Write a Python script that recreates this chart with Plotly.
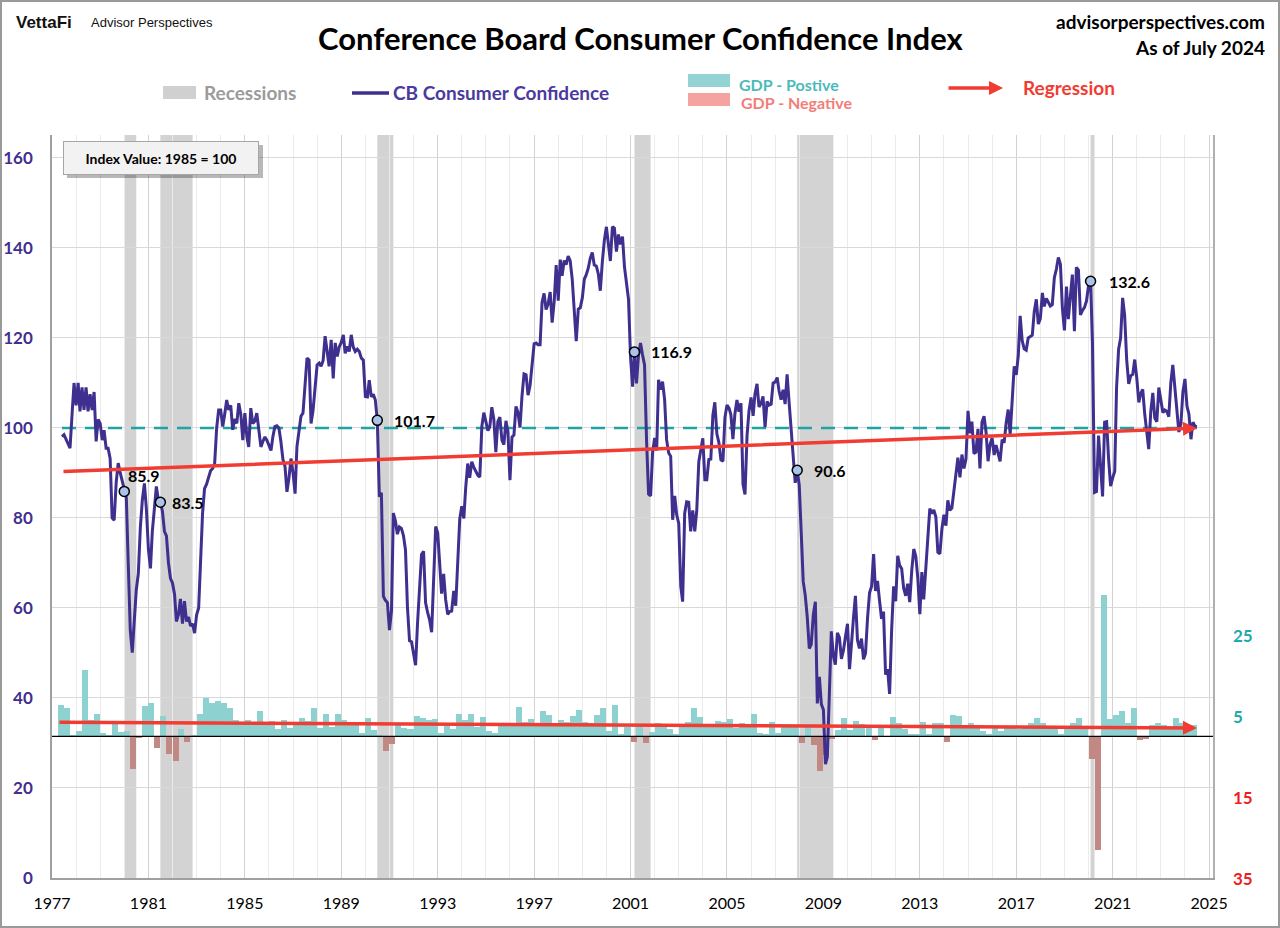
import numpy as np
import pandas as pd
import plotly.graph_objects as go

# ---------------- data ----------------
cb_start = "1977-06-01"  # monthly values, Conference Board index (1985 = 100)
cb_1977 = [98.1, 98.5, 97.5, 96.5, 95.5, 103.0, 110.0]
cb_1978 = [105.0, 110.0, 103.7, 109.0, 104.0, 109.0, 103.7, 107.5, 104.0, 108.0, 97.0, 101.9]
cb_1979 = [101.0, 97.3, 99.5, 95.5, 95.5, 93.2, 80.0, 79.5, 88.0, 92.2, 90.0, 88.0]
cb_1980 = [85.9, 84.5, 70.0, 55.0, 50.1, 58.0, 64.0, 67.7, 78.0, 84.0, 87.7, 82.0]
cb_1981 = [73.0, 68.8, 77.0, 82.0, 87.0, 84.0, 83.5, 81.5, 77.0, 76.0, 70.0, 66.6]
cb_1982 = [65.5, 63.0, 57.0, 58.5, 62.0, 56.5, 61.5, 57.0, 58.0, 56.0, 56.5, 54.4]
cb_1983 = [58.5, 60.0, 72.0, 81.0, 86.5, 87.5, 89.0, 90.5, 91.0, 92.0, 100.0, 104.0]
cb_1984 = [104.0, 100.3, 103.0, 106.2, 104.0, 105.0, 99.6, 102.0, 101.0, 105.5, 103.0, 97.3]
cb_1985 = [103.3, 98.0, 95.8, 104.4, 101.0, 101.5, 103.3, 100.0, 95.8, 97.0, 98.0, 97.3]
cb_1986 = [96.0, 95.0, 98.0, 100.3, 100.5, 100.0, 97.0, 93.0, 91.5, 85.8, 89.0, 93.2]
cb_1987 = [90.0, 85.4, 95.8, 100.0, 102.6, 103.3, 110.0, 115.5, 115.1, 101.0, 104.0, 109.2]
cb_1988 = [114.0, 114.4, 113.7, 115.0, 120.4, 117.0, 113.7, 119.6, 111.0, 118.9, 115.9, 118.0]
cb_1989 = [119.0, 120.7, 116.6, 118.1, 117.0, 120.7, 118.0, 117.0, 117.5, 117.0, 115.5, 115.1]
cb_1990 = [107.0, 106.9, 110.6, 106.9, 107.5, 106.2, 101.7, 84.7, 85.6, 62.6, 61.7, 61.2]
cb_1991 = [55.1, 59.4, 81.1, 79.4, 76.4, 78.0, 77.7, 76.1, 72.9, 60.1, 52.7, 52.5]
cb_1992 = [50.2, 47.3, 56.5, 65.1, 71.9, 72.6, 61.2, 59.0, 57.3, 54.6, 65.6, 78.1]
cb_1993 = [76.7, 68.5, 63.2, 67.6, 61.9, 58.6, 59.2, 59.3, 63.8, 60.5, 71.9, 79.8]
cb_1994 = [82.6, 79.9, 86.7, 92.1, 88.9, 92.5, 91.3, 90.4, 89.5, 89.1, 100.4, 103.4]
cb_1995 = [101.4, 99.4, 100.2, 104.6, 102.0, 94.6, 101.4, 102.4, 97.3, 96.3, 101.6, 99.2]
cb_1996 = [88.4, 98.0, 98.4, 104.8, 103.5, 100.1, 107.0, 112.0, 111.8, 107.3, 109.5, 114.2]
cb_1997 = [118.7, 118.9, 118.5, 118.5, 127.9, 129.9, 126.3, 127.6, 130.2, 123.4, 128.1, 136.2]
cb_1998 = [128.3, 137.4, 133.8, 137.2, 136.3, 138.2, 137.2, 133.1, 126.4, 119.3, 126.4, 126.7]
cb_1999 = [128.9, 133.1, 134.0, 135.5, 137.7, 139.0, 136.2, 136.0, 134.2, 130.5, 137.0, 141.7]
cb_2000 = [144.7, 140.8, 137.1, 144.7, 144.4, 139.2, 143.0, 140.8, 142.5, 135.8, 132.6, 128.6]
cb_2001 = [115.7, 109.2, 116.9, 109.9, 116.1, 118.9, 116.3, 114.0, 97.0, 85.3, 84.9, 94.6]
cb_2002 = [97.8, 95.0, 110.7, 108.5, 110.3, 106.3, 97.4, 94.5, 93.7, 79.6, 84.9, 80.7]
cb_2003 = [78.8, 64.8, 61.4, 81.0, 83.6, 83.5, 77.0, 81.7, 77.0, 81.7, 92.5, 94.8]
cb_2004 = [97.7, 88.5, 88.5, 93.0, 93.1, 102.8, 105.7, 98.7, 96.7, 92.9, 92.6, 102.3]
cb_2005 = [105.1, 104.4, 103.0, 97.5, 103.1, 106.2, 103.6, 105.5, 87.5, 85.2, 98.3, 103.8]
cb_2006 = [106.8, 102.7, 107.5, 109.8, 104.7, 105.4, 107.0, 100.2, 105.9, 105.1, 105.3, 110.0]
cb_2007 = [110.2, 111.2, 108.2, 106.3, 108.5, 105.3, 111.9, 105.6, 99.5, 95.2, 87.8, 90.6]
cb_2008 = [87.3, 76.4, 65.9, 62.8, 58.1, 51.0, 51.9, 58.5, 61.4, 38.8, 44.7, 38.6]
cb_2009 = [37.4, 25.3, 26.9, 40.8, 54.8, 49.3, 47.4, 54.5, 53.4, 48.7, 50.6, 53.6]
cb_2010 = [56.5, 46.4, 52.3, 57.7, 62.7, 52.9, 51.0, 53.2, 48.6, 49.9, 57.8, 63.4]
cb_2011 = [64.8, 72.0, 63.8, 66.0, 61.7, 57.6, 59.2, 45.2, 46.4, 40.9, 55.2, 64.8]
cb_2012 = [61.5, 71.6, 69.5, 68.7, 64.4, 62.7, 65.4, 61.3, 68.4, 73.1, 71.5, 66.7]
cb_2013 = [58.6, 68.0, 61.9, 69.0, 76.2, 82.1, 81.0, 81.8, 80.2, 72.4, 72.0, 77.5]
cb_2014 = [80.7, 78.3, 83.9, 81.7, 82.2, 86.4, 90.3, 93.4, 89.0, 94.1, 91.0, 93.1]
cb_2015 = [103.8, 98.8, 101.4, 94.3, 94.6, 99.8, 91.0, 101.3, 102.6, 99.1, 92.6, 96.3]
cb_2016 = [97.8, 94.0, 96.2, 94.2, 92.6, 97.4, 96.7, 101.1, 104.1, 98.6, 107.1, 113.7]
cb_2017 = [111.8, 116.1, 124.9, 119.4, 117.6, 117.3, 120.0, 120.4, 120.6, 125.9, 128.6, 123.1]
cb_2018 = [124.3, 130.0, 127.0, 128.8, 128.0, 127.1, 127.4, 133.4, 135.3, 137.9, 136.4, 126.6]
cb_2019 = [121.7, 131.4, 124.2, 129.2, 134.1, 121.5, 135.7, 135.1, 125.1, 126.1, 126.8, 128.2]
cb_2020 = [131.6, 132.6, 118.8, 85.7, 85.9, 98.3, 91.7, 84.8, 101.3, 101.4, 92.9, 87.1]
cb_2021 = [88.9, 90.4, 109.0, 117.5, 120.0, 128.9, 125.1, 115.2, 109.8, 111.6, 111.9, 115.2]
cb_2022 = [111.1, 105.7, 107.6, 108.6, 103.2, 98.4, 95.3, 103.6, 107.8, 102.2, 101.4, 109.0]
cb_2023 = [106.0, 103.4, 104.0, 103.7, 102.5, 110.1, 114.0, 108.7, 104.3, 99.1, 101.0, 108.0]
cb_2024 = [110.9, 104.8, 103.1, 97.5, 101.3, 100.4, 100.3]

gdp_start = "1977-04-01"  # quarterly real GDP growth, annualized %
gdp_growth = [
    7.8, 7.0, 0.4,
    1.3, 16.4, 4.0, 5.4,
    0.7, 0.4, 3.0, 1.0,
    1.3, -8.0, -0.5, 7.6,
    8.1, -2.9, 4.9, -4.3,
    -6.1, 1.8, -1.5, 0.2,
    5.4, 9.4, 8.2, 8.6,
    8.1, 7.1, 3.9, 3.3,
    3.9, 3.6, 6.2, 3.0,
    3.8, 1.8, 3.9, 2.1,
    2.8, 4.6, 3.7, 7.0,
    2.1, 5.4, 2.4, 5.4,
    4.1, 3.1, 3.0, 0.8,
    4.4, 1.5, 0.3, -3.6,
    -1.9, 3.2, 2.0, 1.9,
    4.9, 4.4, 4.0, 4.2,
    0.7, 2.5, 1.9, 5.5,
    4.0, 5.5, 2.4, 4.7,
    1.3, 0.9, 3.3, 2.9,
    2.7, 7.2, 3.6, 4.3,
    3.1, 6.2, 5.2, 3.1,
    3.9, 3.6, 5.1, 6.6,
    3.6, 3.3, 5.3, 7.1,
    1.2, 7.8, 0.5, 2.3,
    -1.3, 2.5, -1.6, 1.1,
    3.4, 2.4, 1.7, 0.6,
    2.2, 3.5, 7.0, 4.7,
    2.2, 3.0, 3.7, 3.5,
    4.3, 2.1, 3.4, 2.3,
    5.5, 0.9, 0.6, 3.5,
    0.9, 2.3, 2.2, 2.5,
    -1.6, 2.3, -2.1, -8.5,
    -4.6, -0.7, 1.5, 4.5,
    1.5, 3.7, 3.0, 2.0,
    -1.0, 2.9, -0.1, 4.7,
    3.2, 1.7, 0.5, 0.5,
    3.6, 0.5, 3.2, 3.2,
    -1.4, 5.2, 5.0, 2.1,
    3.3, 2.3, 1.3, 0.6,
    2.4, 1.2, 2.4, 2.0,
    1.8, 2.4, 3.2, 4.4,
    3.3, 2.1, 2.5, 0.6,
    2.2, 3.4, 4.6, 2.6,
    -5.5, -28.0, 34.8, 4.2,
    5.2, 6.2, 3.3, 7.0,
    -1.0, -0.6, 2.7, 3.4,
    2.8, 2.4, 4.4, 3.2,
    1.4, 2.8,
]

recession_start = ["1980-01-01", "1981-07-01", "1990-07-01", "2001-03-01", "2007-12-01", "2020-02-01"]
recession_end = ["1980-07-01", "1982-11-01", "1991-03-01", "2001-11-01", "2009-06-01", "2020-04-01"]

index_base = 100
cb_ticks = [0, 20, 40, 60, 80, 100, 120, 140, 160]
gdp_tick_values = [25, 5, -15, -35]

# ---------------- styling ----------------
W, H = 1280, 928
L, R, T, B = 52, 1213, 135, 878
PURPLE = "#3f2f8f"
TEAL = "#1fa3a3"
RED = "#f03c32"
FONT = "Lato"


def px(x):
    return (x - L) / (R - L)


def py(y):
    return (B - y) / (B - T)


cb_values = (cb_1977 + cb_1978 + cb_1979 + cb_1980 + cb_1981 + cb_1982 + cb_1983 + cb_1984
             + cb_1985 + cb_1986 + cb_1987 + cb_1988 + cb_1989 + cb_1990 + cb_1991 + cb_1992
             + cb_1993 + cb_1994 + cb_1995 + cb_1996 + cb_1997 + cb_1998 + cb_1999 + cb_2000
             + cb_2001 + cb_2002 + cb_2003 + cb_2004 + cb_2005 + cb_2006 + cb_2007 + cb_2008
             + cb_2009 + cb_2010 + cb_2011 + cb_2012 + cb_2013 + cb_2014 + cb_2015 + cb_2016
             + cb_2017 + cb_2018 + cb_2019 + cb_2020 + cb_2021 + cb_2022 + cb_2023 + cb_2024)
cb_dates = pd.date_range(cb_start, periods=len(cb_values), freq="MS")
cb = pd.Series(cb_values, index=cb_dates)
gdp_dates = pd.date_range(gdp_start, periods=len(gdp_growth), freq="QS")

fig = go.Figure()

# GDP bars (primary y, right side)
quarter_ms = 91.31 * 24 * 3600 * 1000
fig.add_trace(go.Bar(
    x=gdp_dates, y=gdp_growth, width=quarter_ms, offset=0,
    marker=dict(color=["#8ed1d1" if v >= 0 else "#c28884" for v in gdp_growth], line=dict(width=0)),
    yaxis="y", showlegend=False, hoverinfo="skip"))

# base-level dashed line at 100
fig.add_trace(go.Scatter(
    x=[cb_dates[0], cb_dates[-1]], y=[index_base, index_base], mode="lines",
    line=dict(color=TEAL, width=2.5, dash="14px,9px"), yaxis="y2", showlegend=False, hoverinfo="skip"))

# CB consumer confidence
fig.add_trace(go.Scatter(
    x=cb_dates, y=cb_values, mode="lines", line=dict(color=PURPLE, width=3),
    yaxis="y2", showlegend=False))

# markers at recession starts
mk_dates = pd.to_datetime(recession_start)
mk_vals = cb.loc[mk_dates].values
fig.add_trace(go.Scatter(
    x=mk_dates, y=mk_vals, mode="markers",
    marker=dict(size=10, color="#a9c3ea", line=dict(color="black", width=1.5)),
    yaxis="y2", showlegend=False))

label_shift = [(2, 16), (10, 0), (15, 0), (15, 0), (15, 0), (16, 0)]
annotations = []
for d, v, (xs, ys) in zip(mk_dates, mk_vals, label_shift):
    annotations.append(dict(x=d, y=v, xref="x", yref="y2", text=f"<b>{v:.1f}</b>",
                            showarrow=False, xanchor="left", yanchor="middle", xshift=xs, yshift=ys,
                            font=dict(family=FONT, size=16, color="black")))

# regressions (computed)
t_cb = (cb_dates - cb_dates[0]).days.values / 365.25
k_cb, b_cb = np.polyfit(t_cb, cb_values, 1)
annotations.append(dict(x=cb_dates[-1], y=b_cb + k_cb * t_cb[-1], xref="x", yref="y2",
                        ax=cb_dates[0], ay=b_cb, axref="x", ayref="y2", text="", showarrow=True,
                        arrowhead=2, arrowsize=0.8, arrowwidth=3.5, arrowcolor=RED, standoff=0))
t_g = (gdp_dates - gdp_dates[0]).days.values / 365.25
k_g, b_g = np.polyfit(t_g, gdp_growth, 1)
annotations.append(dict(x=gdp_dates[-1] + pd.Timedelta(days=91), y=b_g + k_g * t_g[-1], xref="x", yref="y",
                        ax=gdp_dates[0], ay=b_g, axref="x", ayref="y", text="", showarrow=True,
                        arrowhead=2, arrowsize=0.8, arrowwidth=3.5, arrowcolor=RED, standoff=0))

shapes = []
for s, e in zip(recession_start, recession_end):
    shapes.append(dict(type="rect", xref="x", yref="paper", x0=s, x1=e, y0=0, y1=1,
                       fillcolor="#d3d3d3", line=dict(width=0), layer="below"))
# GDP zero line
shapes.append(dict(type="line", xref="paper", yref="y", x0=0, x1=1, y0=0, y1=0,
                   line=dict(color="black", width=1.3)))

# right axis labels (GDP)
for v in gdp_tick_values:
    annotations.append(dict(x=px(1231), y=v, xref="paper", yref="y", text=f"<b>{abs(v)}</b>",
                            showarrow=False, xanchor="left", yanchor="middle",
                            font=dict(family=FONT, size=17, color="#22a9a9" if v > 0 else "#f01e1e")))

# index box with shadow
shapes.append(dict(type="rect", xref="paper", yref="paper", x0=px(67), x1=px(263), y0=py(178), y1=py(145),
                   fillcolor="rgba(0,0,0,0.28)", line=dict(width=0)))
annotations.append(dict(x=px(161), y=py(157.5), xref="paper", yref="paper",
                        text="<b>Index Value: 1985 = 100</b>", showarrow=False,
                        font=dict(family=FONT, size=14, color="black"),
                        bgcolor="#f2f2f2", bordercolor="#a6a6a6", borderwidth=1,
                        width=186, height=24, borderpad=4, xanchor="center", yanchor="middle"))

# header
annotations += [
    dict(x=px(640), y=py(38), xref="paper", yref="paper", text="<b>Conference Board Consumer Confidence Index</b>",
         showarrow=False, xanchor="center", yanchor="middle", font=dict(family=FONT, size=31, color="black")),
    dict(x=px(14), y=py(22), xref="paper", yref="paper", text="<b>VettaFi</b>", showarrow=False,
         xanchor="left", yanchor="middle", font=dict(family="Liberation Sans", size=17, color="#111")),
    dict(x=px(89), y=py(23), xref="paper", yref="paper", text="Advisor Perspectives", showarrow=False,
         xanchor="left", yanchor="middle", font=dict(family="Liberation Sans", size=13, color="#111")),
    dict(x=px(1267), y=py(21), xref="paper", yref="paper", text="<b>advisorperspectives.com</b>", showarrow=False,
         xanchor="right", yanchor="middle", font=dict(family=FONT, size=19, color="black")),
    dict(x=px(1267), y=py(47), xref="paper", yref="paper", text="<b>As of July 2024</b>", showarrow=False,
         xanchor="right", yanchor="middle", font=dict(family=FONT, size=19, color="black")),
]

# legend
shapes += [
    dict(type="rect", xref="paper", yref="paper", x0=px(163), x1=px(196), y0=py(99), y1=py(86),
         fillcolor="#d0d0d0", line=dict(width=0)),
    dict(type="line", xref="paper", yref="paper", x0=px(352), x1=px(389), y0=py(93), y1=py(93),
         line=dict(color=PURPLE, width=3.5)),
    dict(type="rect", xref="paper", yref="paper", x0=px(688), x1=px(730), y0=py(87), y1=py(74),
         fillcolor="#93d3d3", line=dict(width=0)),
    dict(type="rect", xref="paper", yref="paper", x0=px(688), x1=px(730), y0=py(106), y1=py(93),
         fillcolor="#f5a3a0", line=dict(width=0)),
]
annotations += [
    dict(x=px(202), y=py(93), xref="paper", yref="paper", text="<b>Recessions</b>", showarrow=False,
         xanchor="left", yanchor="middle", font=dict(family=FONT, size=19, color="#9b9b9b")),
    dict(x=px(391), y=py(93), xref="paper", yref="paper", text="<b>CB Consumer Confidence</b>", showarrow=False,
         xanchor="left", yanchor="middle", font=dict(family=FONT, size=19, color="#4a3a9e")),
    dict(x=px(737), y=py(84), xref="paper", yref="paper", text="<b>GDP - Postive</b>", showarrow=False,
         xanchor="left", yanchor="middle", font=dict(family=FONT, size=16, color="#4bbaba")),
    dict(x=px(739), y=py(103), xref="paper", yref="paper", text="<b>GDP - Negative</b>", showarrow=False,
         xanchor="left", yanchor="middle", font=dict(family=FONT, size=16, color="#f27d79")),
    dict(x=px(1003), y=py(88), xref="paper", yref="paper", ax=-56, ay=0, text="", showarrow=True,
         arrowhead=2, arrowsize=0.8, arrowwidth=3.5, arrowcolor=RED, standoff=0),
    dict(x=px(1021), y=py(88), xref="paper", yref="paper", text="<b>Regression</b>", showarrow=False,
         xanchor="left", yanchor="middle", font=dict(family=FONT, size=19, color=RED)),
]

# outer border
shapes.append(dict(type="rect", xref="paper", yref="paper", x0=px(1), x1=px(1279), y0=py(927), y1=py(1),
                   line=dict(color="#9a9a9a", width=2), fillcolor="rgba(0,0,0,0)"))

fig.update_layout(
    width=W, height=H,
    margin=dict(l=L, r=W - R, t=T, b=H - B, pad=0, autoexpand=False),
    paper_bgcolor="white", plot_bgcolor="rgba(0,0,0,0)",
    showlegend=False, bargap=0, barmode="overlay",
    xaxis=dict(type="date", range=["1977-01-01", "2025-03-01"], tick0="1977-01-01", dtick="M48",
               tickformat="%Y", showgrid=True, gridcolor="#d2d2d2", gridwidth=1.2,
               minor=dict(dtick="M12", showgrid=True, gridcolor="#ebebeb", gridwidth=1.2),
               showline=True, linecolor="#a0a0a0", linewidth=1.5, ticks="", ticklabelstandoff=10,
               tickfont=dict(family=FONT, size=16, color="black"), zeroline=False, automargin=False),
    yaxis=dict(range=[-35, 148.5], side="right", showgrid=False, showticklabels=False, zeroline=False,
               showline=True, linecolor="#b0b0b0", linewidth=1.5, ticks="", automargin=False),
    yaxis2=dict(range=[0, 165.1], overlaying="y", side="left", tickvals=cb_ticks,
                showgrid=True, gridcolor="#d9d9d9", gridwidth=1.3, zeroline=False,
                showline=True, linecolor="#a0a0a0", linewidth=1.5, ticks="", ticklabelstandoff=14,
                tickfont=dict(family=FONT, size=17, color=PURPLE, weight="bold"), automargin=False),
    shapes=shapes, annotations=annotations,
)

fig.write_html("out.html", config={"displayModeBar": False},
               post_script="document.body.style.margin='0px';document.body.style.overflow='hidden';")
